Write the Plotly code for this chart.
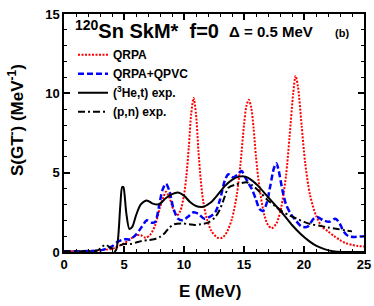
import plotly.graph_objects as go

# QRPA (red dotted)
qrpa_e = [0, 1, 2, 3, 3.5, 4, 4.5, 5, 5.5, 6, 6.4, 6.8, 7.2, 7.6, 8.0, 8.3, 8.5, 8.8, 9.1, 9.4, 9.7, 10.0, 10.2, 10.4, 10.6, 10.8, 11.0, 11.2, 11.4, 11.6, 11.9, 12.3, 12.8, 13.2, 13.6, 14.0, 14.4, 14.7, 15.0, 15.2, 15.4, 15.6, 15.8, 16.0, 16.3, 16.7, 17.0, 17.3, 17.7, 18.1, 18.5, 18.8, 19.1, 19.3, 19.5, 19.8, 20.1, 20.5, 21.0, 21.5, 22.0, 22.5, 23.0, 23.5, 24.0, 24.5, 25.0]
qrpa_s = [0.05, 0.05, 0.06, 0.1, 0.15, 0.2, 0.35, 0.55, 0.8, 1.05, 1.05, 0.9, 1.1, 1.7, 2.8, 3.5, 3.8, 3.4, 2.7, 2.3, 2.6, 3.6, 4.8, 6.6, 8.7, 9.7, 8.7, 6.4, 4.5, 3.2, 2.1, 1.3, 0.9, 0.9, 1.3, 2.1, 3.6, 5.5, 8.0, 9.2, 9.6, 9.1, 7.8, 6.0, 4.0, 2.3, 1.7, 1.5, 1.8, 2.8, 4.8, 7.3, 10.0, 11.1, 10.4, 8.0, 5.6, 3.6, 2.3, 1.6, 1.3, 1.0, 0.75, 0.55, 0.45, 0.38, 0.35]

# QRPA+QPVC (blue dashed)
qpvc_e = [0, 1, 2, 3, 3.5, 4, 4.5, 5, 5.5, 6, 6.5, 6.9, 7.3, 7.6, 7.9, 8.2, 8.5, 8.8, 9.1, 9.5, 9.9, 10.3, 10.8, 11.2, 11.7, 12.1, 12.6, 13.0, 13.4, 13.7, 14.1, 14.5, 14.8, 15.1, 15.4, 15.7, 16.0, 16.3, 16.6, 16.9, 17.2, 17.5, 17.7, 17.9, 18.2, 18.5, 18.9, 19.3, 19.8, 20.3, 20.8, 21.1, 21.6, 22.1, 22.6, 22.9, 23.3, 23.7, 24.2, 25.0]
qpvc_s = [0.05, 0.05, 0.06, 0.1, 0.2, 0.35, 0.65, 0.8, 0.8, 1.1, 1.6, 2.0, 1.85, 1.9, 2.8, 3.9, 4.3, 3.8, 2.8, 2.1, 2.0, 2.2, 2.5, 2.4, 2.1, 2.2, 2.5, 3.3, 4.5, 4.9, 4.7, 4.9, 5.1, 4.7, 4.3, 3.9, 3.3, 2.7, 2.6, 3.1, 4.2, 5.3, 5.6, 5.1, 3.9, 3.0, 2.4, 2.0, 1.6, 1.6, 2.1, 2.2, 2.0, 1.9, 2.1, 1.9, 1.3, 1.0, 0.95, 1.0]

# (3He,t) exp. (black solid)
he3t_e = [4.2, 4.35, 4.5, 4.7, 4.85, 4.95, 5.05, 5.2, 5.45, 5.7, 6.0, 6.4, 6.9, 7.4, 7.9, 8.5, 9.0, 9.5, 10.0, 10.5, 11.0, 11.6, 12.2, 12.8, 13.4, 14.0, 14.6, 15.1, 15.6, 16.2, 16.9, 17.6, 18.3, 19.0, 19.7, 20.4, 21.0, 21.7, 22.4, 23.2, 25.0]
he3t_s = [0.0, 0.15, 0.8, 3.0, 4.1, 4.1, 3.6, 2.4, 1.45, 1.6, 2.3, 3.0, 3.25, 3.05, 3.0, 3.4, 3.65, 3.75, 3.55, 3.15, 2.9, 2.85, 3.1, 3.6, 4.15, 4.55, 4.75, 4.75, 4.55, 4.15, 3.55, 2.95, 2.35, 1.7, 1.15, 0.7, 0.4, 0.18, 0.05, 0.0, 0.0]

# (p,n) exp. (black dash-dot)
pn_e = [0, 1, 2, 2.8, 3.2, 3.5, 3.8, 4.1, 4.5, 5.0, 5.5, 6.0, 6.5, 7.0, 7.5, 8.0, 8.4, 8.8, 9.2, 9.8, 10.4, 10.9, 11.4, 12.0, 12.6, 13.0, 13.4, 13.7, 14.3, 14.8, 15.2, 15.7, 16.3, 17.0, 17.6, 18.2, 18.8, 19.4, 20.0, 20.6, 21.3, 22.0, 22.8, 23.5, 24.0]
pn_s = [0.05, 0.05, 0.05, 0.1, 0.35, 0.45, 0.3, 0.2, 0.35, 0.5, 0.5, 0.6, 0.7, 0.75, 0.8, 0.95, 1.2, 1.55, 1.75, 1.8, 1.75, 1.7, 1.75, 1.85, 2.2, 2.7, 3.5, 4.05, 4.25, 4.35, 4.4, 4.2, 3.8, 3.25, 2.9, 2.55, 2.3, 2.1, 1.9, 1.75, 1.65, 1.55, 1.45, 1.35, 1.3]

x_ticks = [0, 5, 10, 15, 20, 25]
y_ticks = [0, 5, 10, 15]

FONT = "Liberation Sans, Arial, sans-serif"

fig = go.Figure()
fig.add_trace(go.Scatter(x=qrpa_e, y=qrpa_s, mode="lines", name="QRPA",
                         line=dict(color="#ff0000", width=2, dash="2px,1.5px", shape="spline", smoothing=0.8)))
fig.add_trace(go.Scatter(x=qpvc_e, y=qpvc_s, mode="lines", name="QRPA+QPVC",
                         line=dict(color="#0000ff", width=2.5, dash="6px,3px", shape="spline", smoothing=0.8)))
fig.add_trace(go.Scatter(x=he3t_e, y=he3t_s, mode="lines", name="(<sup>3</sup>He,t) exp.",
                         line=dict(color="#000000", width=2, shape="spline", smoothing=0.8)))
fig.add_trace(go.Scatter(x=pn_e, y=pn_s, mode="lines", name="(p,n) exp.",
                         line=dict(color="#000000", width=2, dash="7px,3px,2px,3px", shape="spline", smoothing=0.8)))

axis_common = dict(
    showline=True, linecolor="black", linewidth=1.5, mirror="ticks",
    ticks="inside", ticklen=6, tickwidth=1.5, tickcolor="black",
    showgrid=False, zeroline=False, automargin=False,
    tickfont=dict(family=FONT, size=13, color="black", weight="bold"),
    minor=dict(ticks="inside", ticklen=3, tickwidth=1.2, tickcolor="black", dtick=1),
)

fig.update_xaxes(range=[0, 25], tickvals=x_ticks, **axis_common)
fig.update_yaxes(range=[0, 15], tickvals=y_ticks, **axis_common)

fig.update_layout(
    width=374, height=306, autosize=False,
    margin=dict(l=64, r=10, t=14, b=54, autoexpand=False),
    paper_bgcolor="white", plot_bgcolor="white",
    showlegend=True,
    legend=dict(x=0.03, y=0.89, xanchor="left", yanchor="top",
                bgcolor="rgba(0,0,0,0)", borderwidth=0,
                font=dict(family=FONT, size=12, color="black", weight="bold"),
                tracegroupgap=0, itemwidth=30),
    font=dict(family=FONT, color="black"),
    annotations=[
        dict(text="<sup>120</sup>Sn SkM*  f=0", x=0.03, y=0.935, xref="paper", yref="paper",
             xanchor="left", yanchor="middle", showarrow=False,
             font=dict(family=FONT, size=20, color="black", weight="bold")),
        dict(text="Δ = 0.5 MeV", x=(227 - 64) / 300, y=0.927, xref="paper", yref="paper",
             xanchor="left", yanchor="middle", showarrow=False,
             font=dict(family=FONT, size=15, color="black", weight="bold")),
        dict(text="(b)", x=(333 - 64) / 300, y=0.922, xref="paper", yref="paper",
             xanchor="left", yanchor="middle", showarrow=False,
             font=dict(family=FONT, size=11, color="black", weight="bold")),
        dict(text="S(GT<sup>-</sup>) (MeV<sup>-1</sup>)", x=-0.16, y=(252 - 120) / 238, xref="paper", yref="paper",
             xanchor="center", yanchor="middle", showarrow=False, textangle=-90,
             font=dict(family=FONT, size=17, color="black", weight="bold")),
        dict(text="E (MeV)", x=(210 - 64) / 300, y=-0.165, xref="paper", yref="paper",
             xanchor="center", yanchor="middle", showarrow=False,
             font=dict(family=FONT, size=17, color="black", weight="bold")),
    ],
)

fig.write_html("out.html", config={"displayModeBar": False, "responsive": False},
               post_script="document.body.style.margin='0';document.body.style.padding='0';")
